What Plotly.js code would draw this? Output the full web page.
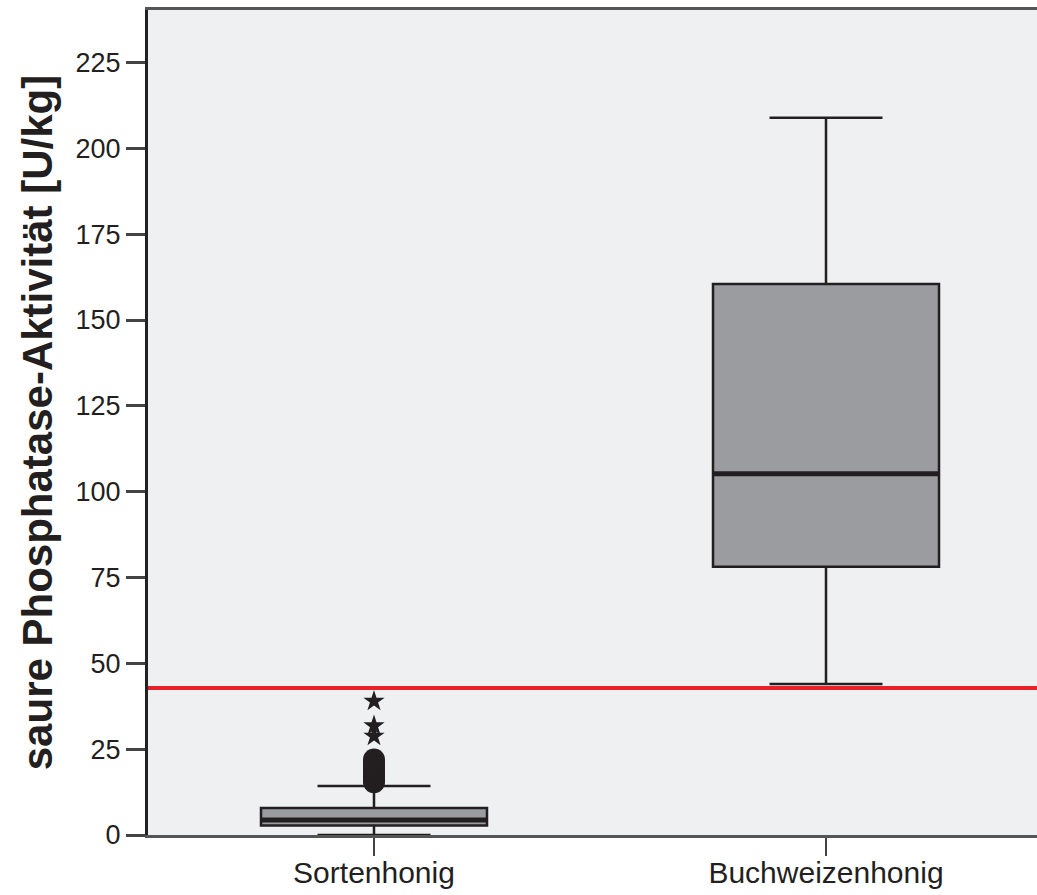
<!DOCTYPE html>
<html>
<head>
<meta charset="utf-8">
<script src="https://cdn.plot.ly/plotly-3.0.1.min.js"></script>
<style>html,body{margin:0;padding:0;background:#fff;}#chart{width:1037px;height:895px;}</style>
</head>
<body>
<div id="chart"></div>
<script>
// ---- data ----
const categories = ["Sortenhonig", "Buchweizenhonig"];
const lowerWhisker = [0, 44.0];
const q1Values = [2.8, 78.1];
const medians = [4.4, 105.2];
const q3Values = [7.9, 160.5];
const upperWhisker = [14.3, 208.9];
// outliers (circles) and extreme values (stars) of Sortenhonig
const outliersSorten = [15.4, 16.2, 17.0, 17.8, 18.5, 19.3, 20.1, 21.0, 22.0];
const extremesSorten = [28.8, 31.8, 39.0];
const threshold = 42.8;
const yTicks = [0, 25, 50, 75, 100, 125, 150, 175, 200, 225];

const dark = '#231f20';
const traces = [];
categories.forEach((c, i) => {
  traces.push({
    type: 'box',
    name: c,
    x: [c],
    q1: [q1Values[i]],
    median: [medians[i]],
    q3: [q3Values[i]],
    lowerfence: [lowerWhisker[i]],
    upperfence: [upperWhisker[i]],
    width: 0.5,
    whiskerwidth: 0.5,
    fillcolor: '#9b9ca0',
    line: {color: dark, width: 2.5},
    boxpoints: false,
    hoverinfo: 'skip',
    showlegend: false
  });
});
traces.push({
  type: 'scatter', mode: 'markers',
  x: outliersSorten.map(() => categories[0]),
  y: outliersSorten,
  marker: {symbol: 'circle', size: 22, color: dark},
  showlegend: false, hoverinfo: 'skip'
});
traces.push({
  type: 'scatter', mode: 'markers',
  x: extremesSorten.map(() => categories[0]),
  y: extremesSorten,
  marker: {symbol: 'star', size: 16, color: dark, line: {width: 0}},
  showlegend: false, hoverinfo: 'skip'
});

const shapes = medians.map((m, i) => ({
  type: 'line', xref: 'x', yref: 'y',
  x0: i - 0.25, x1: i + 0.25, y0: m, y1: m,
  line: {color: dark, width: 5}
}));
shapes.push({
  type: 'line', xref: 'paper', yref: 'y',
  x0: 0, x1: 1, y0: threshold, y1: threshold,
  line: {color: '#e8202a', width: 4}
});

const layout = {
  width: 1037, height: 895,
  margin: {l: 148, r: 0, t: 10, b: 60},
  paper_bgcolor: '#ffffff',
  plot_bgcolor: '#eff0f2',
  font: {family: '"Liberation Sans", Arial, sans-serif', color: dark},
  showlegend: false,
  xaxis: {
    type: 'category',
    categoryarray: categories,
    range: [-0.5, 1.4668],
    showline: true, linecolor: '#555', linewidth: 3, mirror: true,
    showgrid: false, zeroline: false,
    ticks: 'outside', ticklen: 18, tickwidth: 2, tickcolor: '#444',
    ticklabelstandoff: -9,
    tickfont: {size: 30, color: dark}
  },
  yaxis: {
    range: [0, 240.3],
    tickvals: yTicks,
    ticktext: yTicks.map(String),
    showline: true, linecolor: '#222', linewidth: 3,
    showgrid: false, zeroline: false,
    ticks: 'outside', ticklen: 19, tickwidth: 3, tickcolor: '#444',
    tickfont: {size: 27, color: dark},
    title: {
      text: 'saure Phosphatase-Aktivität [U/kg]',
      font: {size: 42, color: dark, family: '"Liberation Sans", Arial, sans-serif', weight: 'bold'},
      standoff: 10
    },
    automargin: false
  },
  shapes: shapes
};

Plotly.newPlot('chart', traces, layout, {staticPlot: true, displayModeBar: false});
</script>
</body>
</html>
